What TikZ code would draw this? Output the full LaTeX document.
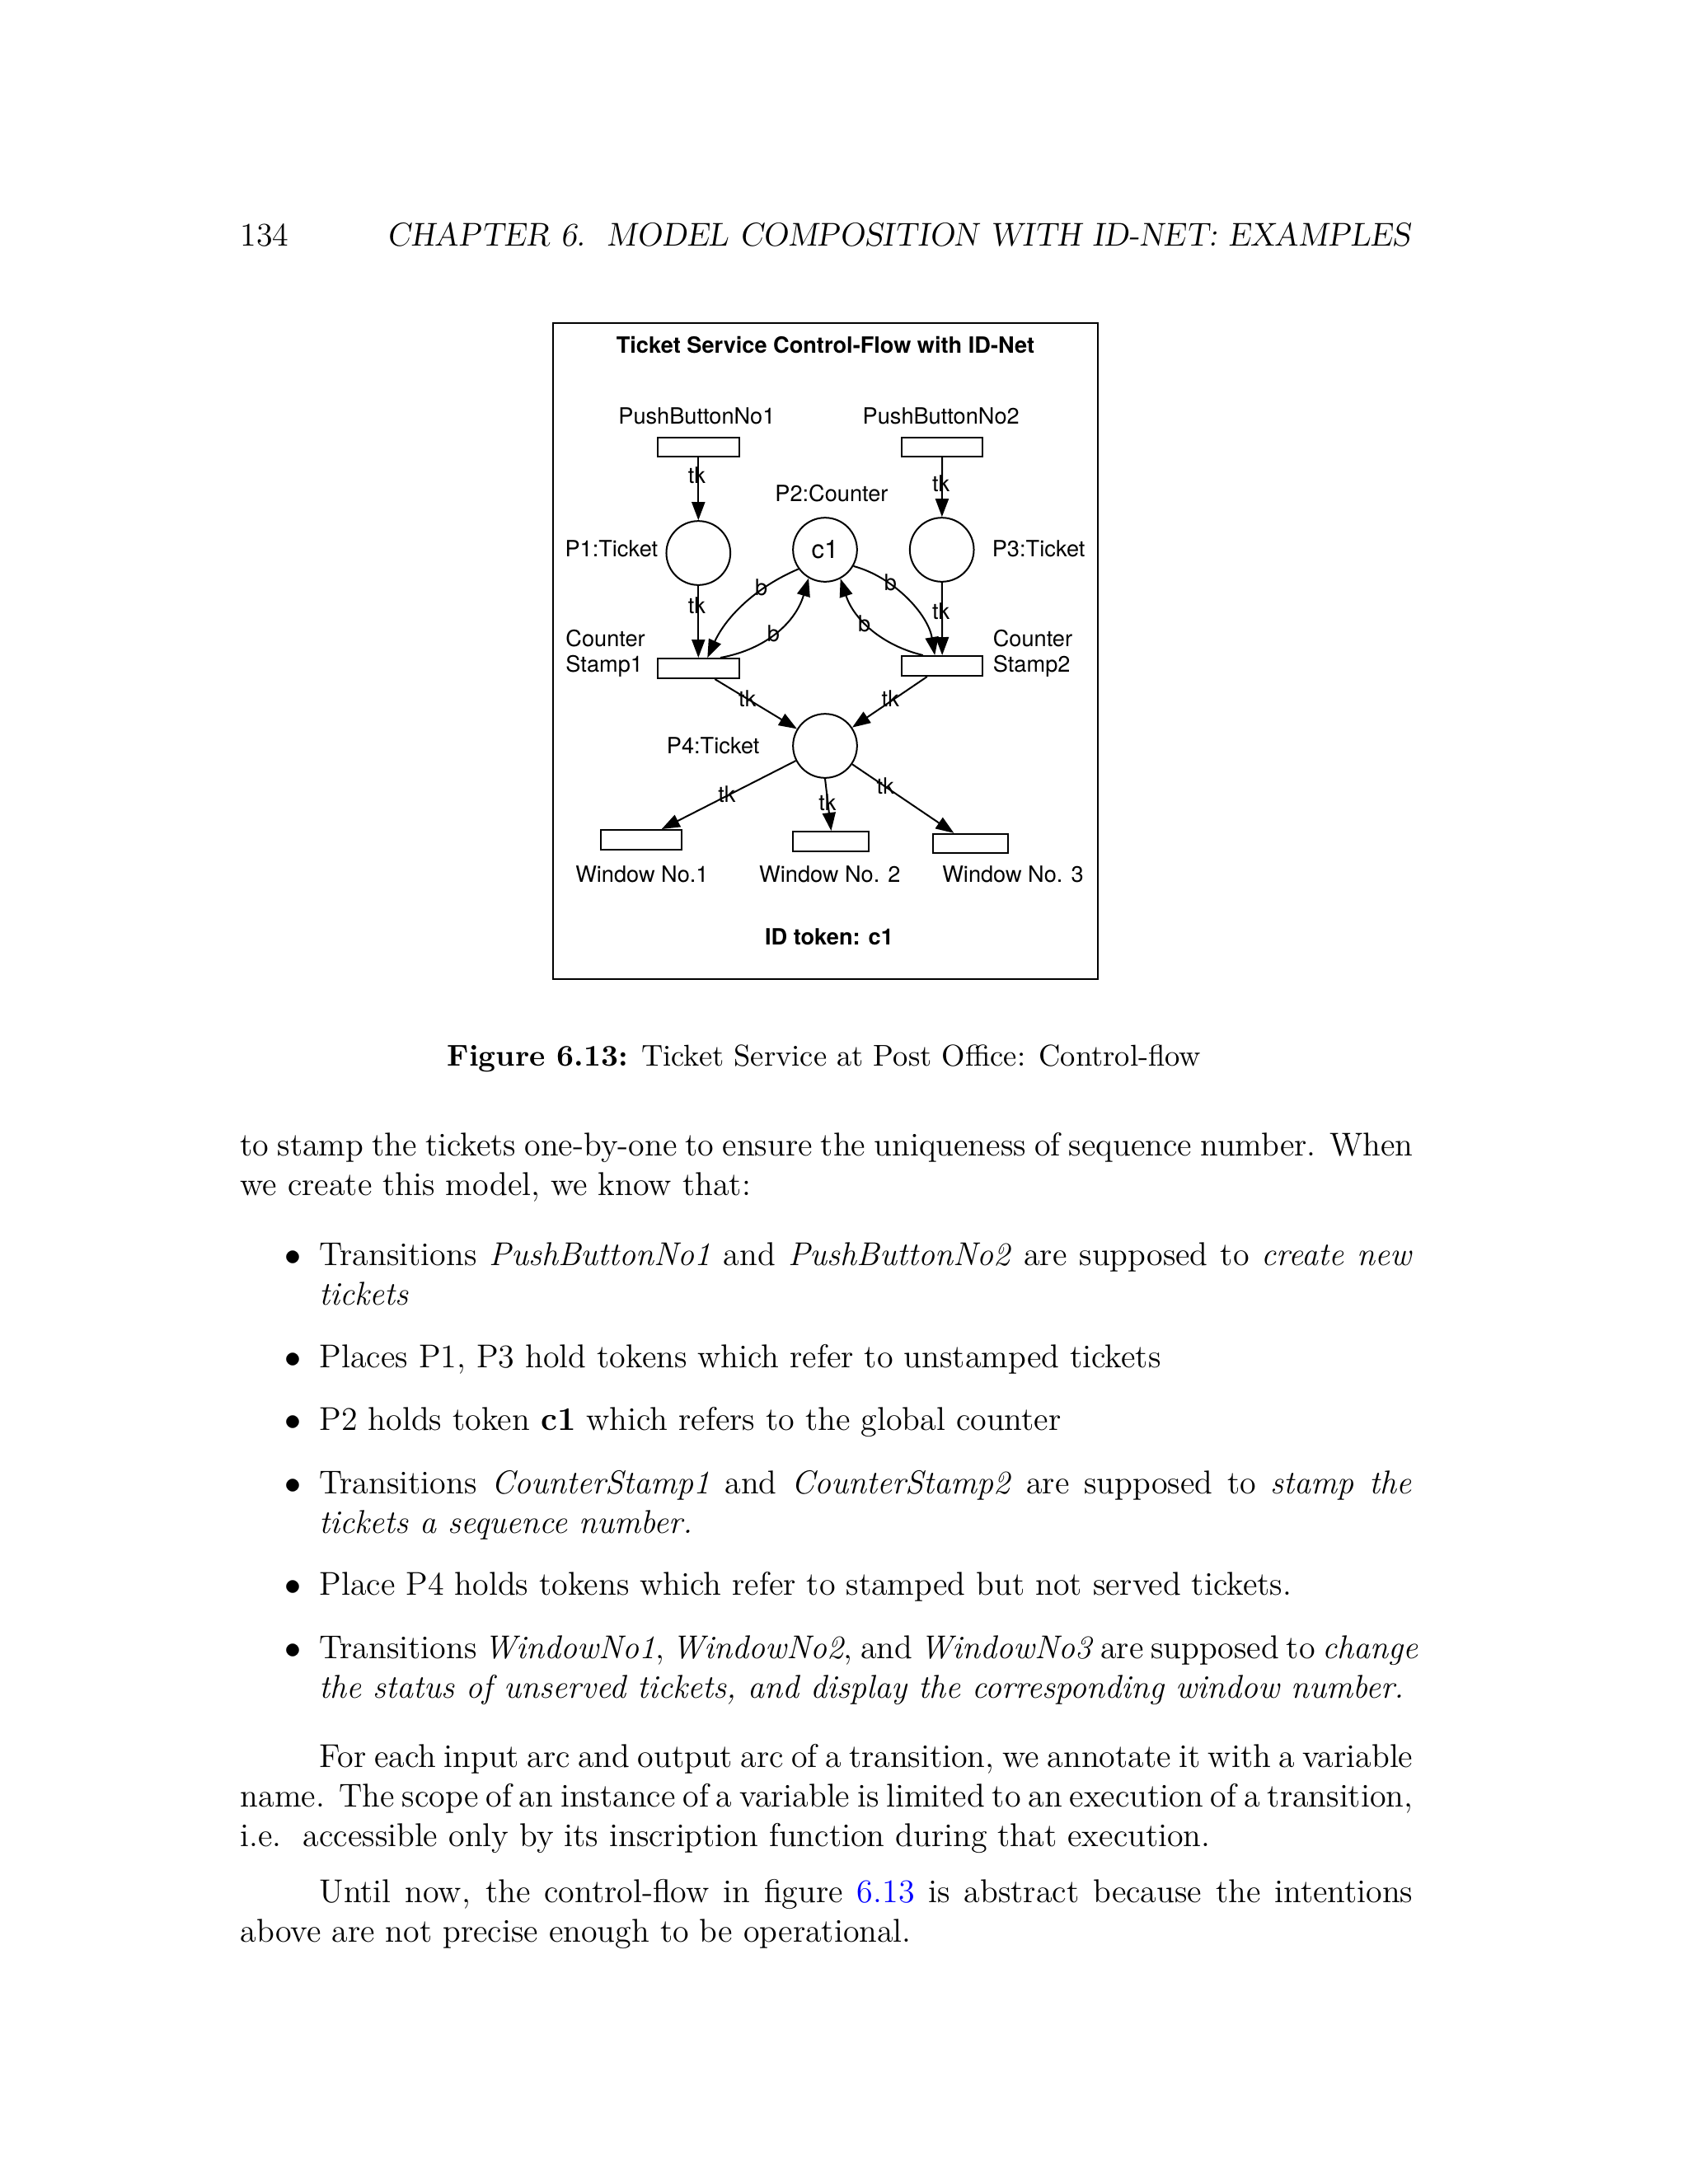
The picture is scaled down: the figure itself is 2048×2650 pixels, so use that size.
\documentclass[tikz,border=0pt]{standalone}
\usepackage{fontspec}
\usepackage{xcolor}
\usetikzlibrary{arrows.meta}
\newfontfamily\diafont{TeX Gyre Heros}

\tikzset{
  place/.style={draw, circle, line width=0.6pt, minimum size=23.3pt, inner sep=0pt},
  trans/.style={draw, rectangle, line width=0.6pt, minimum height=7pt, inner sep=0pt},
  pnarc/.style={line width=0.6pt, -{Triangle[length=6.6pt,width=4.8pt]}},
  lbl/.style={font=\diafont\fontsize{8.15}{9.8}\selectfont, inner sep=0pt, anchor=base},
  body/.style={font=\fontsize{12}{14.5}\selectfont, inner sep=0pt, anchor=base west, text width=426.8pt, align=justify},
  itembody/.style={body, text width=397.5pt},
  bul/.style={font=\fontsize{12}{14.5}\selectfont, inner sep=0pt, anchor=base east},
}

\begin{document}
\begin{tikzpicture}[x=0.3pt,y=0.3pt,yscale=-1]
    \fill[white] (0,0) rectangle (2048,2650);
    \useasboundingbox (0,0) rectangle (2048,2650);

    %Running head
    \node[font=\fontsize{12}{14.5}\selectfont, inner sep=0pt, anchor=base west] (pagenum) at (291,298) {134};
    \node[font=\fontsize{12}{14.5}\selectfont\slshape, inner sep=0pt, anchor=base east] (runhead) at (1712,298) {CHAPTER 6.\ \ MODEL COMPOSITION WITH ID-NET: EXAMPLES};

    %Frame
    \draw[line width=0.75pt] (671,392) rectangle (1332,1188);
    \node[lbl, font=\diafont\bfseries\fontsize{8.15}{9.8}\selectfont] (title) at (1001.5,428) {Ticket Service Control-Flow with ID-Net};

    %Transitions
    \node[trans, minimum width=29.7pt] (PB1) at (847.3,542.5) {};
    \node[trans, minimum width=29.4pt] (PB2) at (1143.2,542.5) {};
    \node[trans, minimum width=29.7pt, minimum height=7.2pt] (CS1) at (847.3,811) {};
    \node[trans, minimum width=29.4pt, minimum height=7.2pt] (CS2) at (1143.2,808) {};
    \node[trans, minimum width=29.4pt, minimum height=7.2pt] (W1) at (778.4,1019) {};
    \node[trans, minimum width=27.6pt, minimum height=7.2pt] (W2) at (1008.4,1021) {};
    \node[trans, minimum width=27.3pt] (W3) at (1177.4,1023.5) {};

    %Places
    \node[place] (P1) at (847.3,671) {};
    \node[place, font=\diafont\fontsize{9.3}{11}\selectfont] (P2) at (1001,667) {c1};
    \node[place] (P3) at (1142.7,667) {};
    \node[place] (P4) at (1001,905) {};

    %Arcs tk
    \draw[pnarc] (PB1) -- (P1);
    \draw[pnarc] (PB2) -- (P3);
    \draw[pnarc] (P1) -- (CS1);
    \draw[pnarc] (P3) -- (CS2);
    \draw[pnarc] ([xshift=6pt]CS1.south) -- (P4);
    \draw[pnarc] ([xshift=-5.5pt]CS2.south) -- (P4);
    \draw[pnarc] (P4) -- ([xshift=7.3pt]W1.north);
    \draw[pnarc] (P4.south) -- (W2.north);
    \draw[pnarc] (P4) -- ([xshift=-6pt]W3.north);

    %Arcs b
    \draw[pnarc] (P2.216) .. controls (917.7,712) and (881,748) .. ([xshift=3.3pt]CS1.north);
    \draw[pnarc] ([xshift=8pt]CS1.north) .. controls (929.6,788) and (965.3,755) .. (P2.240);
    \draw[pnarc] (P2.-30) .. controls (1084.2,700) and (1125.9,745) .. ([xshift=-2.7pt]CS2.north);
    \draw[pnarc] ([xshift=-7pt]CS2.north) .. controls (1069.4,783) and (1035.7,751) .. (P2.298);

    %Labels
    \node[lbl] (lPB1) at (845.4,514) {PushButtonNo1};
    \node[lbl] (lPB2) at (1141.7,514) {PushButtonNo2};
    \node[lbl] (lP2) at (1008.9,608) {P2:Counter};
    \node[lbl, anchor=base east] (lP1) at (798.8,675) {P1:Ticket};
    \node[lbl, anchor=base west] (lP3) at (1203.2,675) {P3:Ticket};
    \node[lbl, anchor=base west] (lCS1a) at (685.8,784) {Counter};
    \node[lbl, anchor=base west] (lCS1b) at (685.8,815) {Stamp1};
    \node[lbl, anchor=base west] (lCS2a) at (1204.2,784) {Counter};
    \node[lbl, anchor=base west] (lCS2b) at (1204.2,815) {Stamp2};
    \node[lbl] (lP4) at (865.2,914) {P4:Ticket};
    \node[lbl] (lW1) at (778.9,1070) {Window No.1};
    \node[lbl] (lW2) at (1006.9,1070) {Window No. 2};
    \node[lbl] (lW3) at (1229,1070) {Window No. 3};
    \node[lbl, font=\diafont\bfseries\fontsize{8.15}{9.8}\selectfont] (idtok) at (1006,1146) {ID token: c1};

    %Inscriptions
    \node[lbl] (tk1) at (845.4,586) {tk};
    \node[lbl] (tk2) at (1141.7,596) {tk};
    \node[lbl] (tk3) at (845.4,744) {tk};
    \node[lbl] (tk4) at (1141.7,751) {tk};
    \node[lbl] (tk5) at (906.8,857) {tk};
    \node[lbl] (tk6) at (1080.3,857) {tk};
    \node[lbl] (tk7) at (882,973) {tk};
    \node[lbl] (tk8) at (1004,983) {tk};
    \node[lbl] (tk9) at (1074.3,963) {tk};
    \node[lbl] (b1) at (923.7,722) {b};
    \node[lbl] (b2) at (938.5,778) {b};
    \node[lbl] (b3) at (1080.3,716) {b};
    \node[lbl] (b4) at (1048.6,766) {b};

    %Caption
    \node[font=\fontsize{10.95}{13.6}\selectfont, inner sep=0pt, anchor=base] (caption) at (1000,1293) {\textbf{Figure 6.13:} Ticket Service at Post Office: Control-flow};

    %Text
    \node[body] (para1) at (291,1402) {to stamp the tickets one-by-one to ensure the uniqueness of sequence number. When we create this model, we know that:};

    \node[bul] (bul1) at (366,1535) {$\bullet$};
    \node[itembody] (item1) at (387,1535) {Transitions \emph{PushButtonNo1} and \emph{PushButtonNo2} are supposed to \emph{create new tickets}};
    \node[bul] (bul2) at (366,1659) {$\bullet$};
    \node[itembody] (item2) at (387,1659) {Places P1, P3 hold tokens which refer to unstamped tickets};
    \node[bul] (bul3) at (366,1735) {$\bullet$};
    \node[itembody] (item3) at (387,1735) {P2 holds token \textbf{c1} which refers to the global counter};
    \node[bul] (bul4) at (366,1812) {$\bullet$};
    \node[itembody] (item4) at (387,1812) {Transitions \emph{CounterStamp1} and \emph{CounterStamp2} are supposed to \emph{stamp the tickets a sequence number.}};
    \node[bul] (bul5) at (366,1935) {$\bullet$};
    \node[itembody] (item5) at (387,1935) {Place P4 holds tokens which refer to stamped but not served tickets.};
    \node[bul] (bul6) at (366,2012) {$\bullet$};
    \node[itembody] (item6) at (387,2012) {\makebox[\linewidth][s]{Transitions \emph{WindowNo1}, \emph{WindowNo2}, and \emph{WindowNo3} are supposed to \emph{change}}\\
      \emph{the status of unserved tickets, and display the corresponding window number.}};

    \node[body] (para2) at (291,2144) {\makebox[\linewidth][s]{\hspace*{28.8pt}For each input arc and output arc of a transition, we annotate it with a variable}\\
      \makebox[\linewidth][s]{name.\ \ The scope of an instance of a variable is limited to an execution of a transition,}\\
      i.e.\ \ accessible only by its inscription function during that execution.};
    \node[body] (para3) at (291,2308) {\hspace*{28.8pt}Until now, the control-flow in figure \textcolor{blue}{6.13} is abstract because the intentions above are not precise enough to be operational.};

\end{tikzpicture}
\end{document}
